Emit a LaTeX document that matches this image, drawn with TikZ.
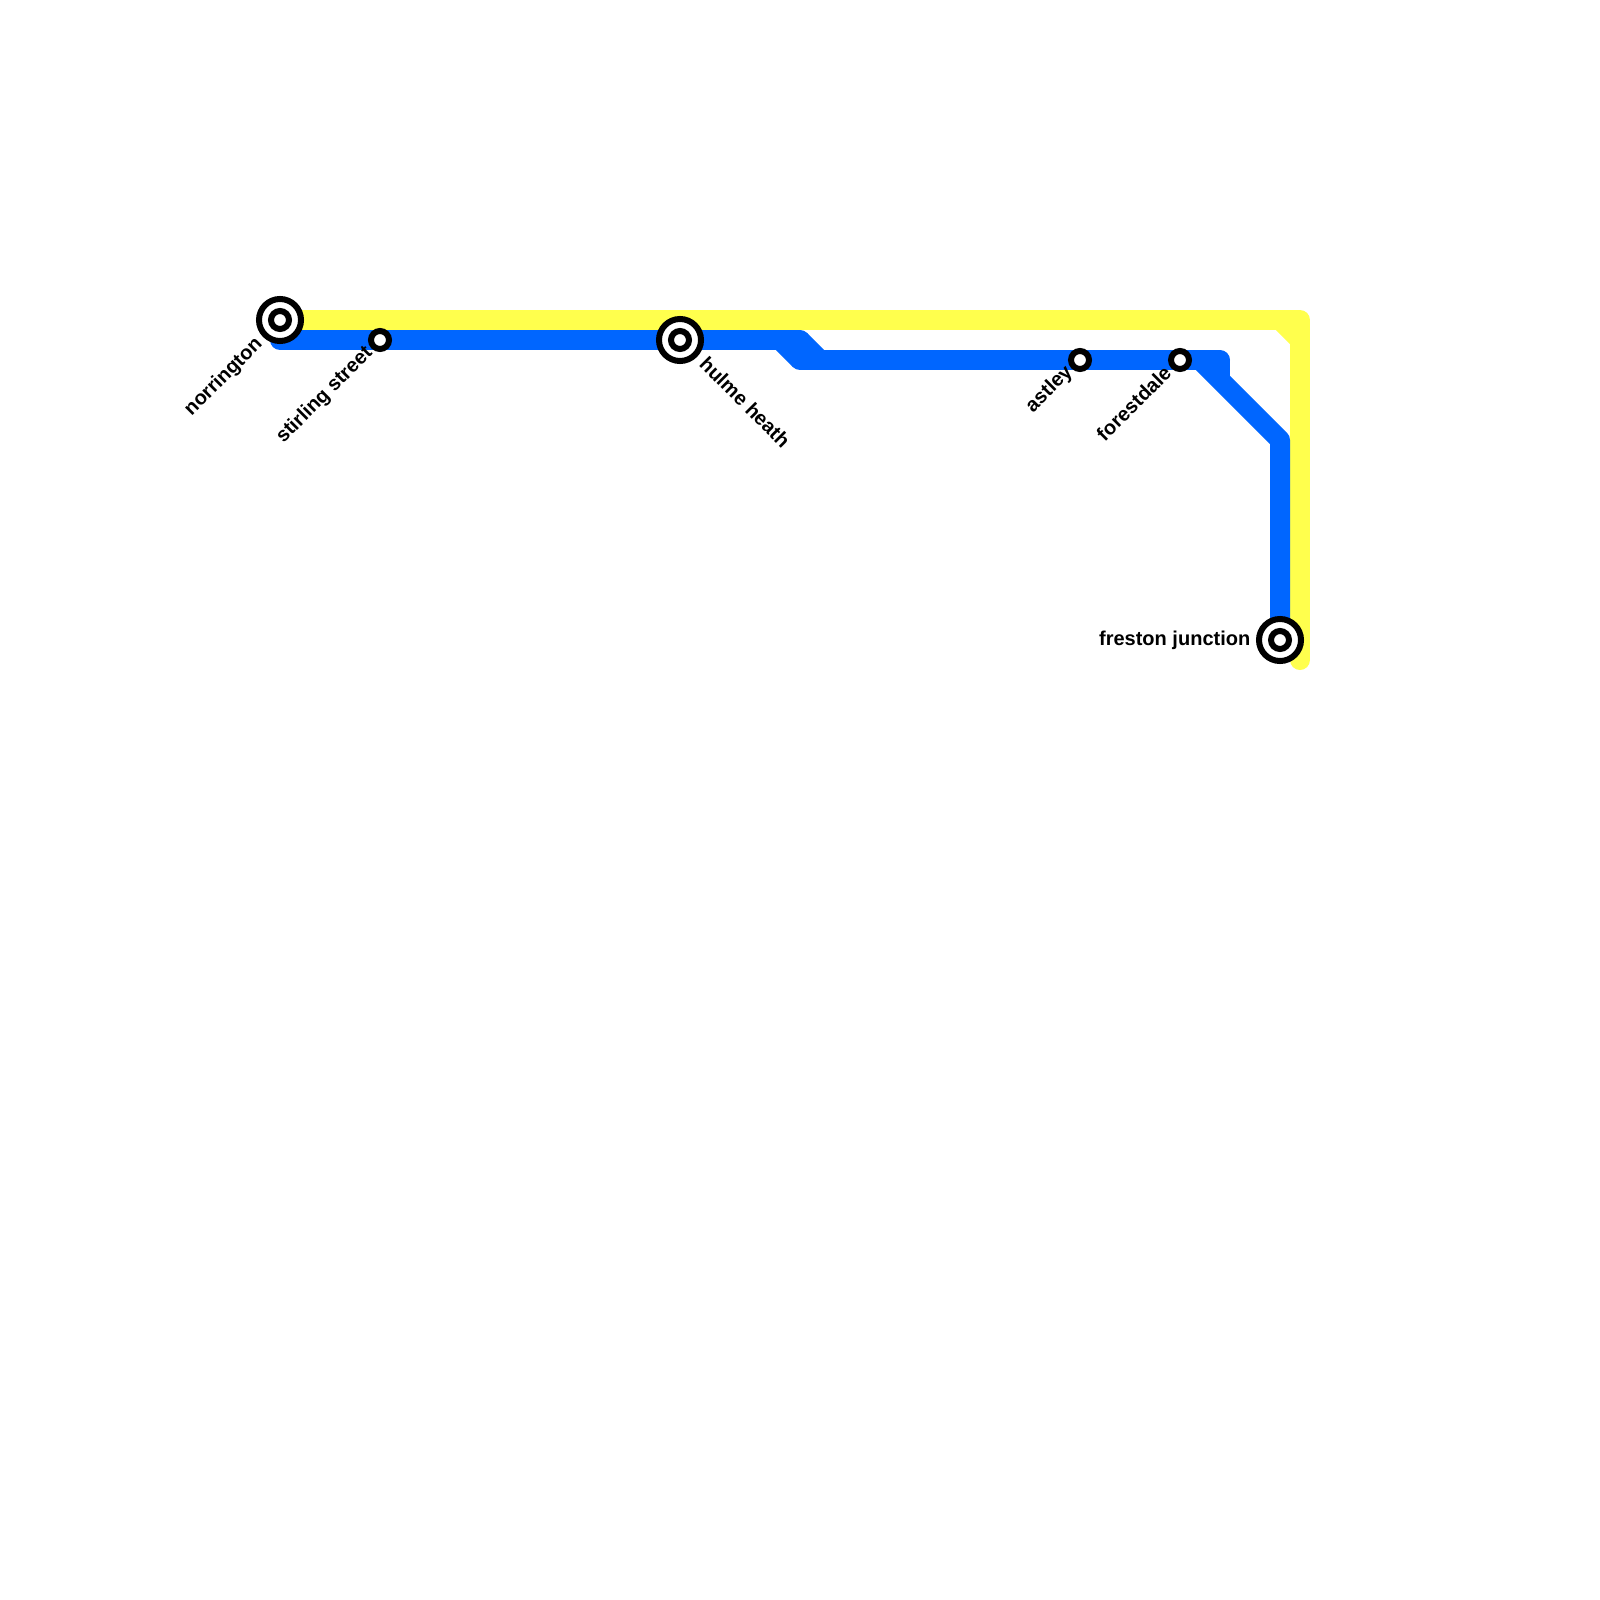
\documentclass[tikz,border=0pt]{standalone}
\usepackage{fontspec}
\setmainfont{Liberation Sans}
\usepackage{xcolor}
\usepackage{tikz}
\usetikzlibrary{positioning}
\definecolor{lineYellow}{HTML}{FFFF4D}
\definecolor{lineBlue}{HTML}{0066FF}
\begin{document}
\begin{tikzpicture}[
    x=0.01cm,y=-0.01cm,
    track/.style={line width=0.2cm,line cap=round,line join=round},
    hub/.style={circle,draw=black,fill=white,line width=0.06cm,minimum size=0.42cm,inner sep=0pt},
    stop/.style={circle,draw=black,fill=white,line width=0.06cm,minimum size=0.18cm,inner sep=0pt},
    stoplabel/.style={inner sep=0pt,font=\fontsize{5.69pt}{6.8pt}\selectfont\bfseries}]
    \useasboundingbox (0,0) rectangle (1600,1600);
    % stations
    \coordinate (norringtonPos) at (280,320);
    \coordinate (hulmePos) at (680,340);
    \coordinate (frestonPos) at (1280,640);
    \coordinate (stirlingPos) at (380,340);
    \coordinate (astleyPos) at (1080,360);
    \coordinate (forestdalePos) at (1180,360);
    % yellow line
    \coordinate (yellowBend) at (1280,320);
    \coordinate (yellowCorner) at (1300,320);
    \coordinate (yellowDown) at (1300,340);
    \coordinate (yellowEnd) at (1300,660);
    \draw[track,lineYellow] (norringtonPos)--(yellowCorner)--(yellowEnd);
    \draw[track,lineYellow,line cap=butt] (yellowBend)--(yellowDown);
    % blue line
    \coordinate (blueStart) at (280,340);
    \coordinate (blueStepA) at (780,340);
    \coordinate (blueStepB) at (800,340);
    \coordinate (blueStepC) at (800,360);
    \coordinate (blueStepD) at (820,360);
    \coordinate (blueStub) at (1220,360);
    \coordinate (blueStubEnd) at (1220,378);
    \coordinate (blueTurn) at (1200,360);
    \coordinate (blueDrop) at (1280,440);
    \draw[track,lineBlue] (blueStart)--(blueStepB);
    \draw[track,lineBlue] (blueStepC)--(blueStub);
    \draw[track,lineBlue,line cap=butt] (blueStepA)--(blueStepC);
    \draw[track,lineBlue,line cap=butt] (blueStepB)--(blueStepD);
    \draw[track,lineBlue,line cap=butt] (blueStub)--(blueStubEnd);
    \draw[track,lineBlue,line cap=butt] (blueTurn)--(blueDrop)--(frestonPos);
    % station markers
    \node[hub] (norrington) at (norringtonPos) {};
    \node[stop] (norringtonInner) at (norringtonPos) {};
    \node[hub] (hulme) at (hulmePos) {};
    \node[stop] (hulmeInner) at (hulmePos) {};
    \node[hub] (freston) at (frestonPos) {};
    \node[stop] (frestonInner) at (frestonPos) {};
    \node[stop] (stirling) at (stirlingPos) {};
    \node[stop] (astley) at (astleyPos) {};
    \node[stop] (forestdale) at (forestdalePos) {};
    % labels
    \node[stoplabel,rotate=45,anchor=east] (norringtonText) at (260,341) {norrington};
    \node[stoplabel,rotate=45,anchor=east] (stirlingText) at (370,350) {stirling street};
    \node[stoplabel,rotate=-45,anchor=west] (hulmeText) at (703,360) {hulme heath};
    \node[stoplabel,rotate=45,anchor=east] (astleyText) at (1070,369) {astley};
    \node[stoplabel,rotate=45,anchor=east] (forestdaleText) at (1168,369) {forestdale};
    \node[stoplabel,anchor=east] (frestonText) at (1251,640) {freston junction};
  \end{tikzpicture}
\end{document}
